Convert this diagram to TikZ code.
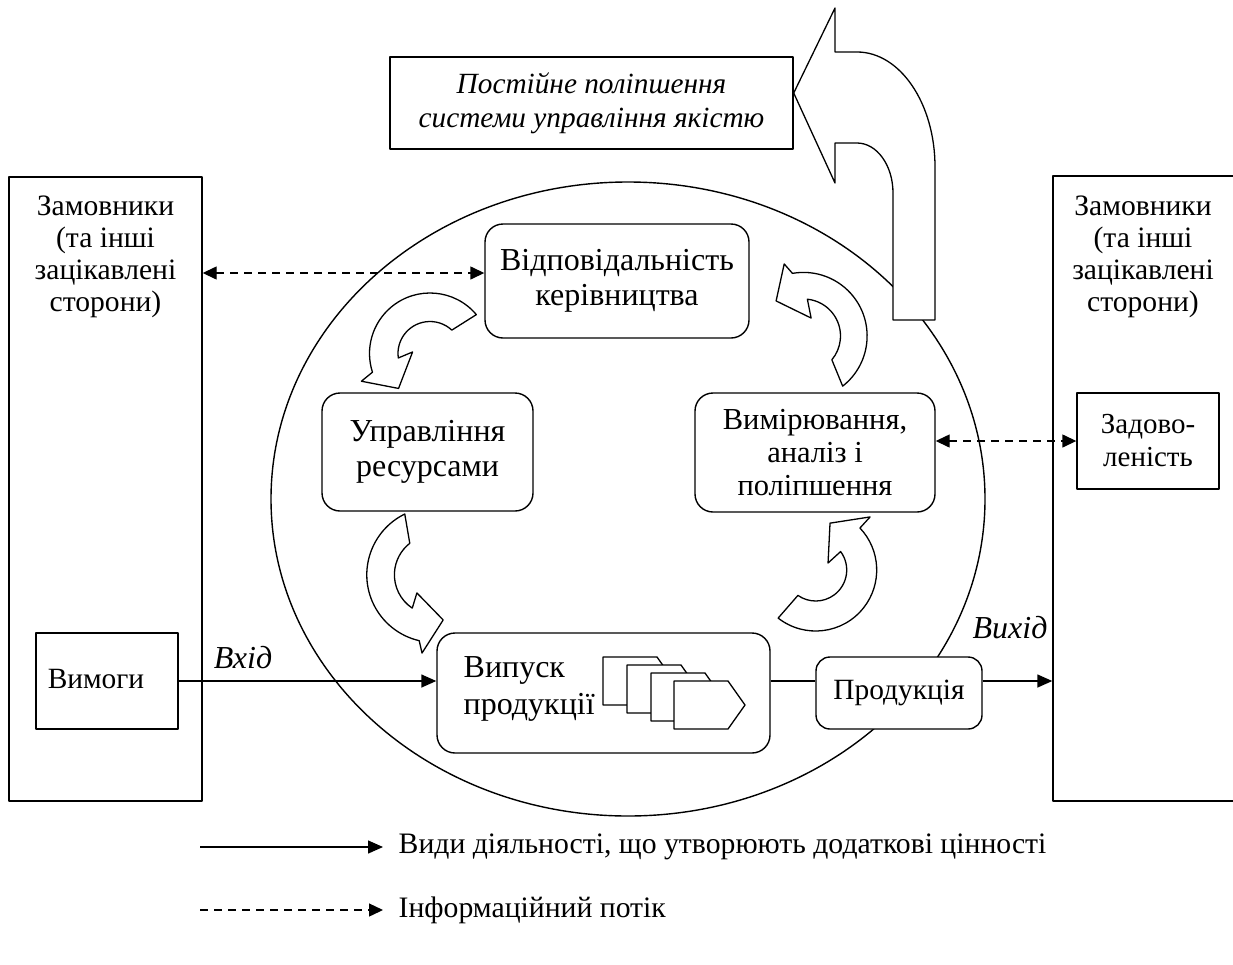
\documentclass[tikz,border=0pt]{standalone}
\usepackage{fontspec}
\setmainfont{Liberation Serif}
\usetikzlibrary{arrows.meta}
\newcommand\txtside{\fontsize{29.6}{32}\selectfont}
\newcommand\txtmain{\fontsize{32}{35}\selectfont}
\newcommand\txtsmall{\fontsize{30.5}{33}\selectfont}
\newcommand\txtlab{\fontsize{32}{35}\selectfont\itshape}
\begin{document}
\begin{tikzpicture}[x=1pt,y=-1pt,line width=1.4pt,line join=round,
  box/.style={draw,fill=white,inner sep=0pt,align=center},
  rbox/.style={box,rounded corners=18pt},
  label/.style={inner sep=0pt,align=center},
  cyc/.style={draw,fill=white,line width=1.3pt},
  flow/.style={-{Triangle[length=15pt,width=13pt]}},
  info/.style={{Triangle[length=14pt,width=13pt]}-{Triangle[length=14pt,width=13pt]},dash pattern=on 8pt off 6pt},
  infoone/.style={-{Triangle[length=14pt,width=13pt]},dash pattern=on 8pt off 6pt}]
\useasboundingbox[fill=white] (0,0) rectangle (1233,964);

% the quality management system
\draw (628,499) ellipse [x radius=357, y radius=317];

% customers on both sides
\node[box,minimum width=193,minimum height=624] (custL) at (105.5,489) {};
\node[label,font=\txtside] (custLtxt) at (105.5,257) {Замовники\\(та інші\\зацікавлені\\сторони)};
\node[box,minimum width=187,minimum height=625] (custR) at (1146.5,488.5) {};
\node[label,font=\txtside] (custRtxt) at (1143,257) {Замовники\\(та інші\\зацікавлені\\сторони)};

\node[box,minimum width=142,minimum height=96] (req) at (107,681) {};
\node[label,font=\fontsize{29.4}{33}\selectfont] (reqtxt) at (96,679) {Вимоги};
\node[box,minimum width=142,minimum height=96,font=\fontsize{29}{33}\selectfont] (sat) at (1148,441) {Задово-\\леність};

% processes
\node[rbox,minimum width=264,minimum height=114,font=\txtmain] (resp) at (617,281) {Відповідальність\\керівництва};
\node[rbox,minimum width=211,minimum height=118,font=\txtmain] (res) at (427.5,452) {Управління\\ресурсами};
\node[rbox,minimum width=240,minimum height=119,font=\txtsmall] (meas) at (815,452.5) {Вимірювання,\\аналіз і\\поліпшення};
\node[rbox,minimum width=333,minimum height=120] (real) at (603.5,693) {};
\node[label,font=\fontsize{32}{37}\selectfont,anchor=west,align=left] (realtxt) at (463,689) {Випуск\\продукції};
\node[rbox,rounded corners=14pt,minimum width=166,minimum height=72,font=\fontsize{29.4}{33}\selectfont] (prod) at (899,693) {Продукція};

% stack of products
\foreach \dx/\dy in {0/0,24/8,48/16,71/24}
  \draw[cyc] (603+\dx,657+\dy) -- ++(54,0) -- ++(17,24) -- ++(-17,24) -- ++(-54,0) -- cycle;

% circular arrows between the processes
\begin{scope}[shift={(430,353.5)}]
  \draw[cyc] (-40:60.5) arc[start angle=-40,end angle=-198,radius=60.5]
    -- (-202:74) -- (-228:47) -- (-175:17.5) -- (-188:32)
    arc[start angle=-188,end angle=-47,radius=32] -- cycle;
\end{scope}
\begin{scope}[shift={(434.4,574.8)}]
  \draw[cyc] (-116:67.6) arc[start angle=-116,end angle=-257,radius=67.6]
    -- (-261:79.2) -- (-281:46) -- (-226:25.2) -- (-236.4:40)
    arc[start angle=-236.4,end angle=-128,radius=40] -- cycle;
\end{scope}
\begin{scope}[shift={(815.7,570)}]
  \draw[cyc] (128:61) arc[start angle=128,end angle=-43.5,radius=61]
    -- (-44.3:76) -- (-73:49) -- (-29.6:14.2) -- (-36.5:31)
    arc[start angle=-36.5,end angle=125,radius=31] -- cycle;
\end{scope}
\begin{scope}[shift={(803.5,336)}]
  \draw[cyc] (52:63.6) arc[start angle=52,end angle=-100,radius=63.6]
    -- (-105:74.6) -- (-128:44.5) -- (-67:19.5) -- (-84:37)
    arc[start angle=-84,end angle=40,radius=37] -- cycle;
\end{scope}

% continual improvement
\node[box,minimum width=403,minimum height=92,font=\fontsize{29.3}{34}\selectfont\itshape] (impr) at (591.5,103) {Постійне поліпшення\\системи управління якістю};
\draw[cyc] (impr.east |- 0,93) -- (835,8) -- (835,52) -- (857,52)
  arc[start angle=-90,end angle=0,x radius=78,y radius=115] -- (935,320) -- (893,320) -- (893,193)
  arc[start angle=0,end angle=-90,x radius=36,y radius=50] -- (835,143) -- (835,183) -- cycle;

% flows
\draw[flow] (req.east) -- (req.east -| real.west);
\draw (real.east |- req.east) -- (prod.west |- req.east);
\draw[flow] (prod.east |- req.east) -- (custR.west |- req.east);
\node[label,font=\txtlab] (intxt) at (243,658) {Вхід};
\node[label,font=\txtlab] (outtxt) at (1010,628) {Вихід};
\draw[info] (custL.east |- 0,273) -- (resp.west |- 0,273);
\draw[info] (meas.east |- sat.west) -- (sat.west);

% legend
\coordinate (legA) at (200,847);
\coordinate (legB) at (383,847);
\coordinate (legC) at (200,910);
\coordinate (legD) at (383,910);
\draw[flow] (legA) -- (legB);
\draw[infoone] (legC) -- (legD);
\node[label,anchor=west,font=\fontsize{29.7}{33}\selectfont] (legAtxt) at (398,847) {Види діяльності, що утворюють додаткові цінності};
\node[label,anchor=west,font=\fontsize{29.7}{33}\selectfont] (legCtxt) at (398,910) {Інформаційний потік};
\end{tikzpicture}
\end{document}
